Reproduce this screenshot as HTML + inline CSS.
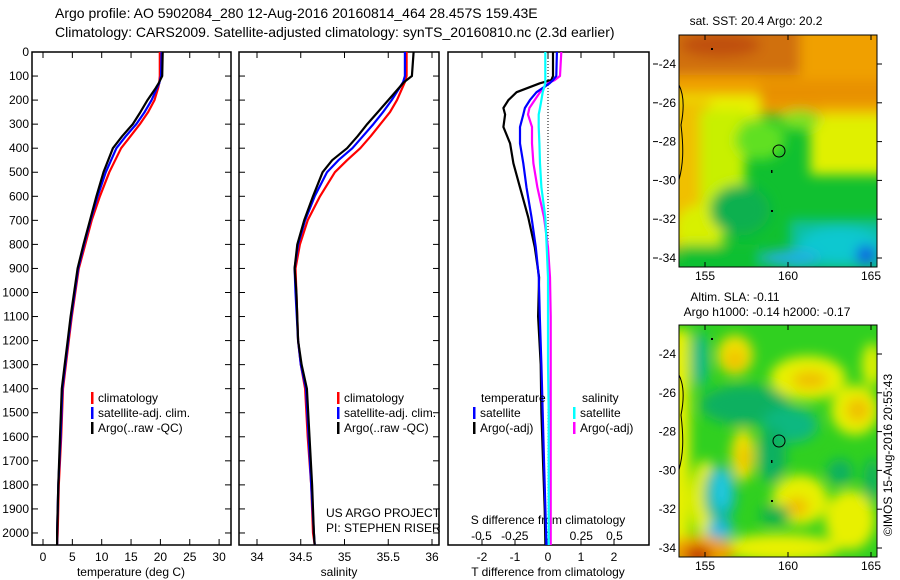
<!DOCTYPE html>
<html><head><meta charset="utf-8">
<style>
html,body{margin:0;padding:0;background:#fff;}
svg{display:block;font-family:"Liberation Sans",sans-serif;}
text{font-size:12px;fill:#000;}
</style></head>
<body>
<svg id="chart" width="900" height="580" viewBox="0 0 900 580" xmlns="http://www.w3.org/2000/svg">
<defs>
<filter id="blurA" x="-20%" y="-20%" width="140%" height="140%"><feGaussianBlur stdDeviation="6"/></filter>
<filter id="blurB" x="-20%" y="-20%" width="140%" height="140%"><feGaussianBlur stdDeviation="6"/></filter>
<clipPath id="clipTop"><rect x="679" y="35" width="198" height="232"/></clipPath>
<clipPath id="clipBot"><rect x="679" y="325" width="198" height="232"/></clipPath>
</defs>
<text x="55" y="18" style="font-size:14px">Argo profile: AO 5902084_280 12-Aug-2016 20160814_464 28.457S 159.43E</text>
<text x="55" y="37" style="font-size:14px">Climatology: CARS2009. Satellite-adjusted climatology: synTS_20160810.nc (2.3d earlier)</text>

<g id="panels"></g>

<!-- SST map -->
<g>
<text x="756" y="25" text-anchor="middle">sat. SST: 20.4  Argo: 20.2</text>
<g clip-path="url(#clipTop)">
<rect x="679" y="35" width="198" height="232" fill="#10c030"/>
<g filter="url(#blurA)">
<rect x="660" y="20" width="240" height="95" fill="#f0a000"/>
<rect x="820" y="90" width="80" height="70" fill="#f0b000"/>
<rect x="660" y="20" width="140" height="55" fill="#d07010"/>
<ellipse cx="720" cy="45" rx="40" ry="12" fill="#c05010"/>
<rect x="760" y="80" width="140" height="25" fill="#e89000"/>
<rect x="660" y="95" width="100" height="25" fill="#e8f000"/>
<rect x="660" y="100" width="50" height="150" fill="#f0c000"/>
<rect x="700" y="110" width="45" height="120" fill="#c8f000"/>
<ellipse cx="700" cy="230" rx="25" ry="25" fill="#d8f000"/>
<rect x="810" y="115" width="80" height="60" fill="#e0f000"/>
<ellipse cx="760" cy="140" rx="25" ry="20" fill="#60e020"/>
<ellipse cx="800" cy="120" rx="20" ry="10" fill="#80e020"/>
<rect x="679" y="245" width="80" height="30" fill="#10c030"/>
<ellipse cx="740" cy="210" rx="30" ry="25" fill="#10b050"/>
<rect x="790" y="220" width="100" height="50" fill="#10c0a0"/>
<ellipse cx="840" cy="245" rx="40" ry="18" fill="#10c8d0"/>
<ellipse cx="790" cy="258" rx="30" ry="8" fill="#20b0e0"/>
<ellipse cx="866" cy="255" rx="10" ry="10" fill="#1060e0"/>
</g>
</g>
<rect x="679" y="35" width="198" height="232" fill="none" stroke="#000" stroke-width="1"/>
<path d="M679,85 C684,95 684,110 681,125 C684,150 683,165 679,180" fill="none" stroke="#000" stroke-width="1"/>
<circle cx="779" cy="151" r="6" fill="none" stroke="#000"/>
<rect x="711" y="48" width="2" height="2" fill="#000"/><rect x="771" y="170" width="1.5" height="3" fill="#000"/><rect x="771" y="210" width="2" height="2" fill="#000"/>
</g>

<!-- SLA map -->
<g>
<text x="735" y="301" text-anchor="middle">Altim. SLA: -0.11</text>
<text x="767" y="316" text-anchor="middle">Argo h1000: -0.14 h2000: -0.17</text>
<g clip-path="url(#clipBot)">
<rect x="679" y="325" width="198" height="232" fill="#30d020"/>
<g filter="url(#blurB)">
<rect x="660" y="330" width="30" height="230" fill="#e8f000"/>
<ellipse cx="705" cy="500" rx="14" ry="40" fill="#e8f000"/>
<ellipse cx="735" cy="355" rx="18" ry="20" fill="#f0e000"/>
<ellipse cx="735" cy="360" rx="9" ry="10" fill="#f0c000"/>
<ellipse cx="808" cy="378" rx="38" ry="22" fill="#e8f000"/>
<ellipse cx="810" cy="380" rx="18" ry="9" fill="#f0c000"/>
<ellipse cx="855" cy="410" rx="24" ry="25" fill="#e8f000"/>
<ellipse cx="858" cy="410" rx="12" ry="12" fill="#f0c000"/>
<ellipse cx="872" cy="365" rx="10" ry="22" fill="#e0f000"/>
<ellipse cx="743" cy="455" rx="12" ry="26" fill="#f0e000"/>
<ellipse cx="745" cy="458" rx="6" ry="12" fill="#f0c000"/>
<ellipse cx="800" cy="500" rx="28" ry="25" fill="#e8f000"/>
<ellipse cx="797" cy="507" rx="12" ry="10" fill="#f0c000"/>
<ellipse cx="850" cy="520" rx="25" ry="30" fill="#e8f000"/>
<ellipse cx="780" cy="548" rx="60" ry="14" fill="#e8f000"/>
<ellipse cx="700" cy="360" rx="8" ry="28" fill="#10b890"/>
<ellipse cx="745" cy="405" rx="45" ry="20" fill="#10b060"/>
<ellipse cx="790" cy="425" rx="28" ry="18" fill="#10b880"/>
<ellipse cx="772" cy="455" rx="14" ry="28" fill="#10b060"/>
<ellipse cx="720" cy="495" rx="16" ry="30" fill="#10b8a0"/>
<ellipse cx="722" cy="490" rx="9" ry="20" fill="#20c8e0"/>
<ellipse cx="720" cy="530" rx="14" ry="9" fill="#20b8e0"/>
<ellipse cx="840" cy="472" rx="13" ry="13" fill="#10b060"/>
<ellipse cx="872" cy="480" rx="8" ry="22" fill="#10b060"/>
<ellipse cx="775" cy="515" rx="15" ry="10" fill="#10b050"/>
<ellipse cx="700" cy="552" rx="35" ry="16" fill="#f0a000"/>
<ellipse cx="698" cy="555" rx="14" ry="9" fill="#c03000"/>
</g>
</g>
<rect x="679" y="325" width="198" height="232" fill="none" stroke="#000" stroke-width="1"/>
<path d="M679,375 C684,385 684,400 681,415 C684,440 683,455 679,470" fill="none" stroke="#000" stroke-width="1"/>
<circle cx="779" cy="441" r="6" fill="none" stroke="#000"/>
<rect x="711" y="338" width="2" height="2" fill="#000"/><rect x="771" y="460" width="1.5" height="3" fill="#000"/><rect x="771" y="500" width="2" height="2" fill="#000"/>
</g>
<g id="mapaxes"></g>
<text transform="translate(892,455) rotate(-90)" text-anchor="middle">©IMOS 15-Aug-2016 20:55:43</text>
</svg>
<script>
// ---- data ----
const tempDepths = [0,100,130,150,200,250,300,350,400,500,600,700,800,900,1000,1100,1200,1300,1400,1600,1800,2000,2050];
const tempClim   = [19.9,19.9,19.8,19.6,19.0,17.9,16.5,14.9,13.3,11.3,9.7,8.3,7.2,6.1,5.5,4.9,4.4,3.9,3.4,3.1,2.7,2.5,2.4];
const tempSat    = [20.2,20.1,19.8,19.4,18.5,17.3,15.9,14.1,12.5,10.7,9.3,8.1,7.0,6.0,5.4,4.8,4.3,3.8,3.3,3.0,2.6,2.4,2.4];
const tempArgo   = [20.4,20.3,19.7,19.2,17.8,16.6,15.3,13.5,11.9,10.3,9.1,8.0,6.9,5.9,5.3,4.7,4.2,3.7,3.2,2.9,2.6,2.4,2.4];
const salDepths  = [0,100,125,200,250,300,350,400,450,500,600,700,800,900,1000,1200,1300,1400,1600,1800,2000,2050];
const salClim    = [35.71,35.71,35.69,35.60,35.52,35.41,35.30,35.18,35.03,34.89,34.72,34.58,34.49,34.44,34.45,34.47,34.50,34.55,34.58,34.62,34.64,34.66];
const salSat     = [35.69,35.69,35.67,35.54,35.44,35.33,35.21,35.09,34.93,34.80,34.66,34.55,34.47,34.43,34.44,34.47,34.50,34.56,34.59,34.62,34.65,34.66];
const salArgo    = [35.79,35.77,35.68,35.50,35.38,35.26,35.15,35.03,34.86,34.75,34.64,34.54,34.46,34.43,34.45,34.47,34.51,34.57,34.60,34.63,34.65,34.66];
const diffDepths = [0,100,117,130,167,200,233,260,312,380,463,563,687,812,937,1100,1300,1500,1700,1900,2050];
const dTempSat   = [0.27,0.25,0.15,0.05,-0.35,-0.55,-0.7,-0.75,-0.85,-0.85,-0.75,-0.65,-0.5,-0.37,-0.28,-0.25,-0.2,-0.16,-0.12,-0.08,-0.05];
const dTempArgo  = [0.15,0.15,0.1,-0.25,-0.95,-1.2,-1.35,-1.3,-1.35,-1.15,-1.05,-0.85,-0.6,-0.4,-0.27,-0.3,-0.22,-0.2,-0.15,-0.1,-0.08];
const dSalSat    = [-0.02,-0.02,-0.02,-0.02,-0.04,-0.05,-0.06,-0.07,-0.07,-0.065,-0.06,-0.05,-0.02,-0.01,0.0,0.0,0.0,0.005,0.005,0.005,0.005];
const dSalArgo   = [0.1,0.09,0.05,0.0,-0.06,-0.1,-0.14,-0.15,-0.12,-0.12,-0.11,-0.08,-0.03,0.0,0.015,0.02,0.02,0.02,0.02,0.02,0.02];
const depthTicks = [0,100,200,300,400,500,600,700,800,900,1000,1100,1200,1300,1400,1500,1600,1700,1800,1900,2000];
const tempTicks  = [0,5,10,15,20,25,30];
const salTicks   = ["34","34.5","35","35.5","36"];
const dTTicks    = [-2,-1,0,1,2];
const dSTicks    = ["-0.5","-0.25","0","0.25","0.5"];
const lonTicks   = [155,160,165];
const latTicks   = [-24,-26,-28,-30,-32,-34];

const NS="http://www.w3.org/2000/svg";
const svg=document.getElementById('chart');
const g=document.getElementById('panels');
function el(tag,attrs,parent,txt){const e=document.createElementNS(NS,tag);for(const k in attrs)e.setAttribute(k,attrs[k]);if(txt!==undefined)e.textContent=txt;(parent||g).appendChild(e);return e;}
const PT=52,PB=545;
const yD=d=>PT+d*(PB-PT)/2050;
const xT=t=>43+t*5.87;
const xS=s=>257+(s-34)*87.5;
const xdT=t=>548+t*33;
const xdS=s=>548+s*133;
const panels=[[32,231],[239,439],[448,649]];
panels.forEach((p,i)=>{
  const r=el('rect',{x:p[0],y:PT,width:p[1]-p[0],height:PB-PT,fill:'none',stroke:'#000','stroke-width':1.5});
  
  
});
depthTicks.forEach(d=>{
  const y=yD(d);
  el('line',{x1:32,x2:38,y1:y,y2:y,stroke:'#000'});
  el('line',{x1:225,x2:231,y1:y,y2:y,stroke:'#000'});
  el('line',{x1:239,x2:245,y1:y,y2:y,stroke:'#000'});
  el('line',{x1:433,x2:439,y1:y,y2:y,stroke:'#000'});
  const t=el('text',{x:29,y:y+4,'text-anchor':'end'},g,String(d));
  
  
});
latTicks.forEach(l=>{const y=64+(-24-l)*19.4;el('line',{x1:653,x2:658,y1:y,y2:y,stroke:'#000'});});
tempTicks.forEach(v=>{const x=xT(v);el('line',{x1:x,x2:x,y1:PB,y2:PB-6,stroke:'#000'});el('line',{x1:x,x2:x,y1:PT,y2:PT+6,stroke:'#000'});
  const t=el('text',{x:x,y:561,'text-anchor':'middle'},g,String(v));});
salTicks.forEach(v=>{const x=xS(parseFloat(v));el('line',{x1:x,x2:x,y1:PB,y2:PB-6,stroke:'#000'});el('line',{x1:x,x2:x,y1:PT,y2:PT+6,stroke:'#000'});
  const t=el('text',{x:x,y:561,'text-anchor':'middle'},g,v);});
dTTicks.forEach(v=>{const x=xdT(v);el('line',{x1:x,x2:x,y1:PB,y2:PB-6,stroke:'#000'});el('line',{x1:x,x2:x,y1:PT,y2:PT+6,stroke:'#000'});
  const t=el('text',{x:x,y:561,'text-anchor':'middle'},g,String(v));});
dSTicks.forEach(v=>{const x=xdS(parseFloat(v));
  const t=el('text',{x:x,y:540,'text-anchor':'middle'},g,v);});
let t;
t=el('text',{x:131,y:576,'text-anchor':'middle'},g,'temperature (deg C)');
t=el('text',{x:339,y:576,'text-anchor':'middle'},g,'salinity');
t=el('text',{x:548,y:576,'text-anchor':'middle'},g,'T difference from climatology');
t=el('text',{x:548,y:524,'text-anchor':'middle'},g,'S difference from climatology');
t=el('text',{x:326,y:517},g,'US ARGO PROJECT');
t=el('text',{x:326,y:532},g,'PI: STEPHEN RISER');
el('line',{x1:548,x2:548,y1:PT,y2:PB,stroke:'#000','stroke-dasharray':'1,2'});
function line(depths,vals,xf,color,name){
  const pts=depths.map((d,i)=>xf(vals[i]).toFixed(1)+','+yD(d).toFixed(1)).join(' ');
  const p=el('polyline',{points:pts,fill:'none',stroke:color,'stroke-width':2.2,'stroke-linejoin':'round'});
  
  
}
line(tempDepths,tempClim,xT,'#ff0000','temp-climatology-line');
line(tempDepths,tempSat,xT,'#0000ff','temp-satellite-line');
line(tempDepths,tempArgo,xT,'#000000','temp-argo-line');
line(salDepths,salClim,xS,'#ff0000','sal-climatology-line');
line(salDepths,salSat,xS,'#0000ff','sal-satellite-line');
line(salDepths,salArgo,xS,'#000000','sal-argo-line');
line(diffDepths,dTempArgo,xdT,'#000000','t-diff-argo-line');
line(diffDepths,dSalArgo,xdS,'#ff00ff','s-diff-argo-line');
line(diffDepths,dTempSat,xdT,'#0000ff','t-diff-satellite-line');
line(diffDepths,dSalSat,xdS,'#00ffff','s-diff-satellite-line');
function leg(x,y,color,label,name){
  el('rect',{x:x,y:y-10,width:2.5,height:12,fill:color});
  const t=el('text',{x:x+7,y:y},g,label);
  
  
}
[91,337].forEach(x=>{
  leg(x,402,'#ff0000','climatology','legend-climatology');
  leg(x,417,'#0000ff','satellite-adj. clim.','legend-satellite-adj');
  leg(x,432,'#000000','Argo(..raw -QC)','legend-argo');
});
t=el('text',{x:481,y:402},g,'temperature');
t=el('text',{x:582,y:402},g,'salinity');
leg(473,417,'#0000ff','satellite','legend-t-satellite');
leg(473,432,'#000000','Argo(-adj)','legend-t-argo');
leg(573,417,'#00ffff','satellite','legend-s-satellite');
leg(573,432,'#ff00ff','Argo(-adj)','legend-s-argo');
const ma=document.getElementById('mapaxes');
const xLon=l=>788+(l-160)*16.6;
[[35,267,280],[325,557,570]].forEach(([top,bot,ly])=>{
  lonTicks.forEach(l=>{const x=xLon(l);el('line',{x1:x,x2:x,y1:bot,y2:bot-5,stroke:'#000'},ma);el('line',{x1:x,x2:x,y1:top,y2:top+5,stroke:'#000'},ma);
    const t=el('text',{x:x,y:ly,'text-anchor':'middle'},ma,String(l));});
  latTicks.forEach(l=>{const y=top+29+(-24-l)*19.4;el('line',{x1:877,x2:882,y1:y,y2:y,stroke:'#000'},ma);
    const t=el('text',{x:676,y:y+4,'text-anchor':'end'},ma,String(l));});
});
</script>
</body></html>
